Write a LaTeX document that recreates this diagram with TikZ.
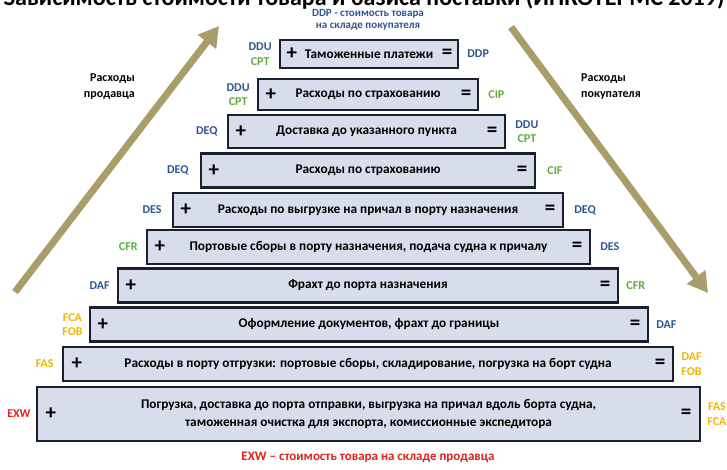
\documentclass[tikz,border=0pt]{standalone}
\usepackage{fontspec}
\setmainfont{Carlito}
\usetikzlibrary{arrows.meta}
\usetikzlibrary{positioning}
\definecolor{boxfill}{HTML}{D7DDEA}
\definecolor{boxline}{HTML}{1B1F30}
\definecolor{termblue}{HTML}{2F5597}
\definecolor{termgreen}{HTML}{5DAE3A}
\definecolor{termyellow}{HTML}{F4B400}
\definecolor{termred}{HTML}{E0201B}
\definecolor{costarrow}{HTML}{A89D6B}

\begin{document}
\begin{tikzpicture}[x=1pt, y=-1pt]
            \tikzset{cost box/.style={draw=boxline, fill=boxfill, line width=2.4pt, minimum height=34pt, inner sep=0pt, align=center, font={\bfseries\fontsize{13.3}{18.5}\selectfont}}};
            \tikzset{sign/.style={inner sep=0pt, font={\bfseries\fontsize{21}{21}\selectfont}}};
            \tikzset{term/.style={inner sep=0pt, align=center, font={\bfseries\fontsize{12}{14.5}\selectfont}}};
            \tikzset{side note/.style={inner sep=0pt, font={\bfseries\fontsize{12}{16}\selectfont}}};
            \tikzset{cost arrow/.style={-{Triangle[length=20pt, width=22pt]}, costarrow, line width=7pt}};
            \useasboundingbox (0, 0) rectangle (727, 469);
            % Title, cut at the top edge
            \node[anchor=base, inner sep=0pt, font={\bfseries\fontsize{24}{24}\selectfont}] (title) at (364, 5) {Зависимость стоимости товара и базиса поставки (ИНКОТЕРМС 2019)};
            \node[term, text=termblue, font={\bfseries\fontsize{11}{11.5}\selectfont}] (ddpnote) at (368, 20) {DDP - стоимость товара\\на складе покупателя};
            % Cost arrows
            \coordinate (sellerstart) at (15, 292);
            \coordinate (sellerend) at (219, 26);
            \coordinate (buyerstart) at (511, 27);
            \coordinate (buyerend) at (708, 293);
            \draw[cost arrow] (sellerstart) -- (sellerend);
            \draw[cost arrow] (buyerstart) -- (buyerend);
            \node[side note, align=right, anchor=east] (sellernote) at (135, 87) {Расходы\\продавца};
            \node[side note, align=left, anchor=west] (buyernote) at (581, 87) {Расходы\\покупателя};
            % Customs
            \node[cost box, minimum width=178pt, minimum height=28pt] (customs) at (369, 54) {Таможенные платежи};
            \node[sign] (customsplus) at ([xshift=13pt]customs.west) {+};
            \node[sign] (customseq) at ([xshift=-12pt]customs.east) {=};
            \node[term, text=termblue, left=7pt of customs] (customsleft) {DDU\\\textcolor{termgreen}{CPT}};
            \node[term, text=termblue, right=8pt of customs] (customsright) {DDP};
            % Insurance to the named point
            \node[cost box, minimum width=220pt, minimum height=31pt] (insurpoint) at (368, 94.5) {Расходы по страхованию};
            \node[sign] (insurpointplus) at ([xshift=14pt]insurpoint.west) {+};
            \node[sign] (insurpointeq) at ([xshift=-13pt]insurpoint.east) {=};
            \node[term, text=termblue, left=7pt of insurpoint] (insurpointleft) {DDU\\\textcolor{termgreen}{CPT}};
            \node[term, text=termgreen, right=9pt of insurpoint] (insurpointright) {CIP};
            % Delivery
            \node[cost box, minimum width=277pt, minimum height=33pt] (delivery) at (366.5, 131.5) {Доставка до указанного пункта};
            \node[sign] (deliveryplus) at ([xshift=14pt]delivery.west) {+};
            \node[sign] (deliveryeq) at ([xshift=-14pt]delivery.east) {=};
            \node[term, text=termblue, left=9pt of delivery] (deliveryleft) {DEQ};
            \node[term, text=termblue, right=9pt of delivery] (deliveryright) {DDU\\\textcolor{termgreen}{CPT}};
            % Insurance
            \node[cost box, minimum width=334pt] (insurance) at (368, 170.5) {Расходы по страхованию};
            \node[sign] (insuranceplus) at ([xshift=14pt]insurance.west) {+};
            \node[sign] (insuranceeq) at ([xshift=-14pt]insurance.east) {=};
            \node[term, text=termblue, left=11pt of insurance] (insuranceleft) {DEQ};
            \node[term, text=termgreen, right=11pt of insurance] (insuranceright) {CIF};
            % Unloading
            \node[cost box, minimum width=390pt] (unloading) at (368, 210) {Расходы по выгрузке на причал в порту назначения};
            \node[sign] (unloadingplus) at ([xshift=14pt]unloading.west) {+};
            \node[sign] (unloadingeq) at ([xshift=-14pt]unloading.east) {=};
            \node[term, text=termblue, left=10pt of unloading] (unloadingleft) {DES};
            \node[term, text=termblue, right=10pt of unloading] (unloadingright) {DEQ};
            % Port fees
            \node[cost box, minimum width=443pt] (portfees) at (368.5, 247) {Портовые сборы в порту назначения, подача судна к причалу};
            \node[sign] (portfeesplus) at ([xshift=14pt]portfees.west) {+};
            \node[sign] (portfeeseq) at ([xshift=-14pt]portfees.east) {=};
            \node[term, text=termgreen, left=8pt of portfees] (portfeesleft) {CFR};
            \node[term, text=termblue, right=9pt of portfees] (portfeesright) {DES};
            % Freight
            \node[cost box, minimum width=500pt] (freight) at (368, 285.5) {Фрахт до порта назначения};
            \node[sign] (freightplus) at ([xshift=14pt]freight.west) {+};
            \node[sign] (freighteq) at ([xshift=-14pt]freight.east) {=};
            \node[term, text=termblue, left=7pt of freight] (freightleft) {DAF};
            \node[term, text=termgreen, right=7pt of freight] (freightright) {CFR};
            % Documents
            \node[cost box, minimum width=558pt] (documents) at (369, 324.5) {Оформление документов, фрахт до границы};
            \node[sign] (documentsplus) at ([xshift=14pt]documents.west) {+};
            \node[sign] (documentseq) at ([xshift=-14pt]documents.east) {=};
            \node[term, text=termyellow, left=6pt of documents] (documentsleft) {FCA\\FOB};
            \node[term, text=termblue, right=7pt of documents] (documentsright) {DAF};
            % Loading
            \node[cost box, minimum width=610pt] (loading) at (368, 364) {Расходы в порту отгрузки: портовые сборы, складирование, погрузка на борт судна};
            \node[sign] (loadingplus) at ([xshift=15pt]loading.west) {+};
            \node[sign] (loadingeq) at ([xshift=-14pt]loading.east) {=};
            \node[term, text=termyellow, left=8pt of loading] (loadingleft) {FAS};
            \node[term, text=termyellow, right=7pt of loading] (loadingright) {DAF\\FOB};
            % Pickup
            \node[cost box, minimum width=663pt, minimum height=54pt] (pickup) at (368.5, 414) {Погрузка, доставка до порта отправки, выгрузка на причал вдоль борта судна,\\таможенная очистка для экспорта, комиссионные экспедитора};
            \node[sign] (pickupplus) at ([xshift=15pt]pickup.west) {+};
            \node[sign] (pickupeq) at ([xshift=-15pt]pickup.east) {=};
            \node[term, text=termred, left=5pt of pickup] (pickupleft) {EXW};
            \node[term, text=termyellow, right=6pt of pickup] (pickupright) {FAS\\FCA};
            % Bottom note
            \node[inner sep=0pt, text=termred, font={\bfseries\fontsize{13}{14}\selectfont}] (exwnote) at (368, 457) {EXW – стоимость товара на складе продавца};
\end{tikzpicture}
\end{document}
